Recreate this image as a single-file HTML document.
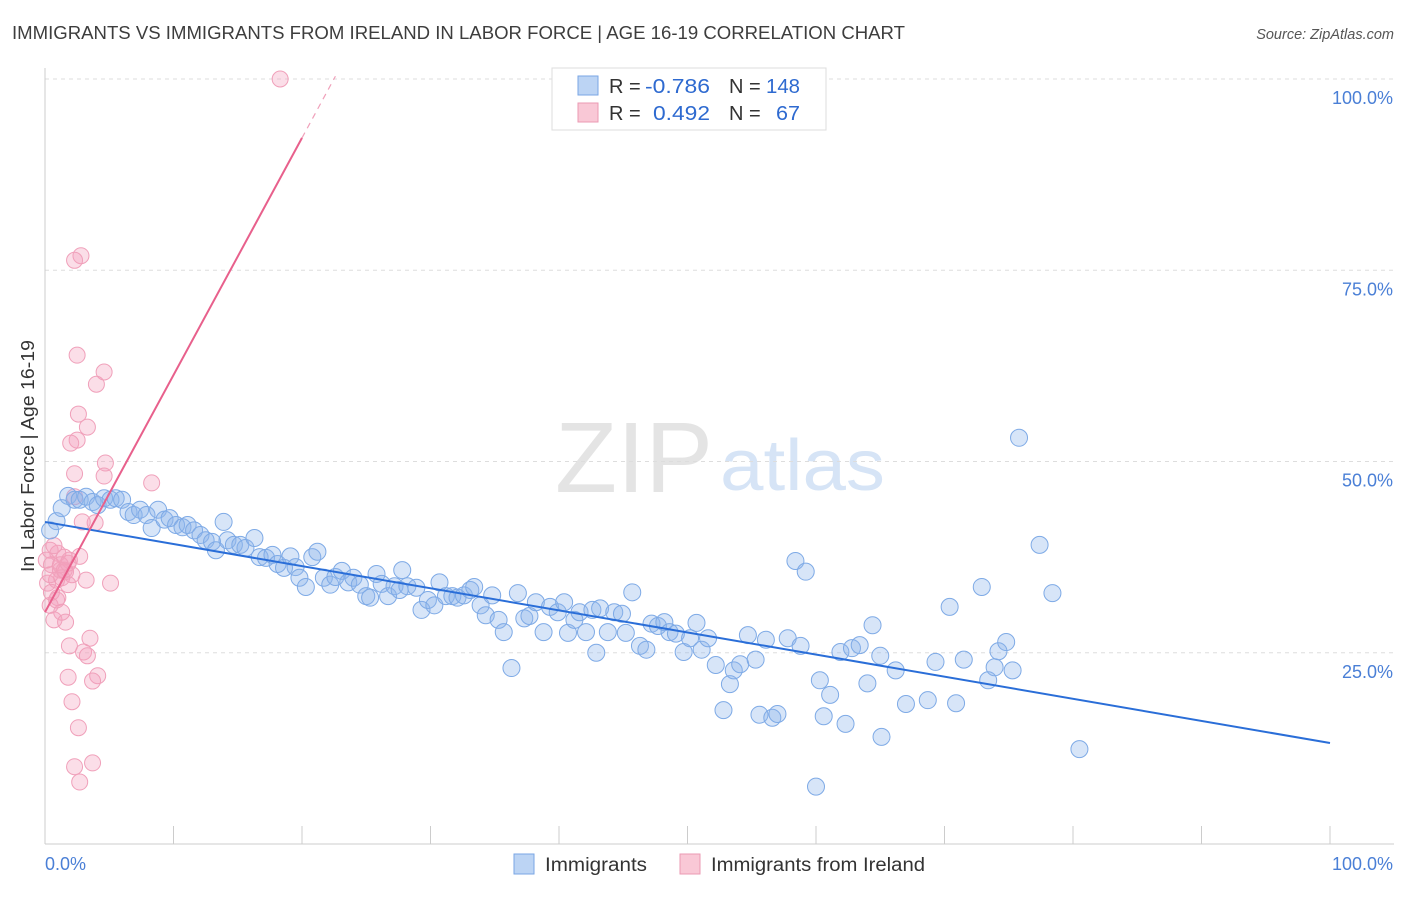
<!DOCTYPE html>
<html><head><meta charset="utf-8">
<style>
body{margin:0;background:#fff;font-family:"Liberation Sans",sans-serif;}
svg text{font-family:"Liberation Sans",sans-serif;}
</style></head>
<body>
<svg id="chart" width="1406" height="892" xmlns="http://www.w3.org/2000/svg">
<text x="12" y="39" font-size="18" fill="#3d3d3d" textLength="893" lengthAdjust="spacingAndGlyphs">IMMIGRANTS VS IMMIGRANTS FROM IRELAND IN LABOR FORCE | AGE 16-19 CORRELATION CHART</text>
<text x="1394" y="39" font-size="14.5" fill="#555" text-anchor="end" font-style="italic">Source: ZipAtlas.com</text>
<g>
<text x="555" y="492" font-size="100" fill="#e4e4e4" font-family="Liberation Serif, serif" textLength="158" lengthAdjust="spacingAndGlyphs">ZIP</text>
<text x="720" y="490" font-size="72" fill="#d6e4f6" textLength="165" lengthAdjust="spacingAndGlyphs">atlas</text>
</g>
<g id="grid"></g>
<g id="axes"></g>
<g id="pinkPts"></g>
<g id="bluePts"></g>
<g id="trends"></g>
<text transform="translate(34,456) rotate(-90)" font-size="18" fill="#333" text-anchor="middle" textLength="232" lengthAdjust="spacingAndGlyphs">In Labor Force | Age 16-19</text>
<g>
<rect x="552" y="68" width="274" height="62" fill="#fff" stroke="#ddd"/>
<rect x="578" y="76" width="20" height="19" fill="#bcd4f4" stroke="#7aa6e4"/>
<rect x="578" y="103" width="20" height="19" fill="#f9c8d6" stroke="#eb9ab3"/>
<text x="609" y="93" font-size="20" fill="#333">R =</text>
<text x="645" y="93" font-size="20" fill="#2e6ad0" textLength="65" lengthAdjust="spacingAndGlyphs">-0.786</text>
<text x="729" y="93" font-size="20" fill="#333">N =</text>
<text x="766" y="93" font-size="20" fill="#2e6ad0" textLength="34" lengthAdjust="spacingAndGlyphs">148</text>
<text x="609" y="120" font-size="20" fill="#333">R =</text>
<text x="653" y="120" font-size="20" fill="#2e6ad0" textLength="57" lengthAdjust="spacingAndGlyphs">0.492</text>
<text x="729" y="120" font-size="20" fill="#333">N =</text>
<text x="776" y="120" font-size="20" fill="#2e6ad0" textLength="24" lengthAdjust="spacingAndGlyphs">67</text>
</g>
<g>
<rect x="514" y="854" width="20" height="20" fill="#bcd4f4" stroke="#7aa6e4"/>
<text x="545" y="871" font-size="19" fill="#333" textLength="102" lengthAdjust="spacingAndGlyphs">Immigrants</text>
<rect x="680" y="854" width="20" height="20" fill="#f9c8d6" stroke="#eb9ab3"/>
<text x="711" y="871" font-size="19" fill="#333" textLength="214" lengthAdjust="spacingAndGlyphs">Immigrants from Ireland</text>
</g>
</svg>
<script>
const yTicks=[25,50,75,100];
const yTickLabels=["25.0%","50.0%","75.0%","100.0%"];
const xTickLabels=["0.0%","100.0%"];
const blueX=[0.4,0.9,1.3,1.8,2.3,2.7,3.2,3.7,4.1,4.6,5.1,5.5,6.0,6.5,6.9,7.4,7.9,8.3,8.8,9.3,9.7,10.2,10.7,11.1,11.6,12.1,12.5,13.0,13.3,13.9,14.2,14.7,15.2,15.6,16.3,16.7,17.2,17.7,18.1,18.6,19.1,19.5,19.8,20.3,20.8,21.2,21.7,22.2,22.6,23.1,23.6,24.0,24.5,25.0,25.3,25.8,26.2,26.7,27.2,27.6,27.8,28.2,28.9,29.3,29.8,30.3,30.7,31.2,31.7,32.1,32.6,33.1,33.4,33.9,34.3,34.8,35.3,35.7,36.3,36.8,37.3,37.7,38.2,38.8,39.3,39.9,40.4,40.7,41.2,41.6,42.1,42.6,42.9,43.2,43.8,44.3,44.9,45.2,45.7,46.3,46.8,47.2,47.7,48.2,48.6,49.1,49.7,50.2,50.7,51.1,51.6,52.2,52.8,53.3,53.6,54.1,54.7,55.3,55.6,56.1,56.6,57.0,57.8,58.4,58.8,59.2,60.0,60.3,60.6,61.1,61.9,62.3,62.8,63.4,64.0,64.4,65.0,65.1,66.2,67.0,68.7,69.3,70.4,70.9,71.5,72.9,73.4,73.9,74.2,74.8,75.3,75.8,77.4,78.4,80.5];
const blueY=[41.0,42.2,43.9,45.5,45.0,45.0,45.4,44.7,44.3,45.2,45.0,45.2,45.0,43.4,43.0,43.7,43.0,41.3,43.7,42.4,42.6,41.7,41.4,41.7,41.0,40.4,39.7,39.5,38.4,42.1,39.7,39.1,39.1,38.7,40.0,37.5,37.4,37.8,36.6,36.1,37.6,36.2,34.8,33.6,37.5,38.2,34.8,33.9,34.9,35.7,34.2,34.8,33.9,32.4,32.2,35.3,34.0,32.4,33.7,33.2,35.8,33.7,33.5,30.6,31.9,31.2,34.2,32.4,32.4,32.2,32.5,33.2,33.6,31.2,29.9,32.5,29.3,27.7,23.0,32.8,29.5,29.8,31.6,27.7,31.0,30.3,31.6,27.6,29.3,30.3,27.7,30.6,25.0,30.8,27.7,30.3,30.1,27.6,32.9,25.9,25.4,28.8,28.5,29.0,27.7,27.5,25.1,26.9,28.9,25.4,26.9,23.4,17.5,20.9,22.7,23.5,27.3,24.1,16.9,26.7,16.5,17.0,26.9,37.0,25.9,35.6,7.5,21.4,16.7,19.5,25.1,15.7,25.6,26.0,21.0,28.6,24.6,14.0,22.7,18.3,18.8,23.8,31.0,18.4,24.1,33.6,21.4,23.1,25.2,26.4,22.7,53.1,39.1,32.8,12.4];
const pinkX=[18.3,2.8,2.3,2.5,4.6,4.0,2.6,3.3,2.5,2.0,2.3,4.7,4.6,8.3,2.3,3.9,2.9,0.4,1.0,1.5,1.9,2.7,0.5,1.2,1.6,2.1,0.9,1.3,0.2,3.2,5.1,1.8,0.5,1.0,0.4,1.3,0.7,1.6,3.5,1.9,3.0,3.3,1.8,4.1,3.7,2.1,2.6,2.3,3.7,2.7,0.1,0.4,0.9,1.2,1.5,1.8,0.7];
const pinkY=[100,76.9,76.3,63.9,61.7,60.1,56.2,54.5,52.8,52.4,48.4,49.8,48.1,47.2,45.4,42.0,42.1,38.4,38.0,37.5,37.1,37.6,36.5,35.8,35.6,35.2,34.5,34.8,34.1,34.5,34.1,33.9,32.9,32.2,31.2,30.3,29.3,29.0,26.9,25.9,25.1,24.6,21.8,22.0,21.3,18.6,15.2,10.1,10.6,8.1,37.1,35.2,31.9,36.5,35.8,36.7,39.0];
const blueTrend=[42.1,13.2];
const pinkTrend=[30.3,92.3,20,22.6];

const X0=45,X1=1330,Y0=844,Y100=79;
const sx=v=>X0+(X1-X0)*v/100;
const sy=v=>Y0-(Y0-Y100)*v/100;
const NS="http://www.w3.org/2000/svg";
function mk(tag,parent,attrs){const e=document.createElementNS(NS,tag);for(const k in attrs)e.setAttribute(k,attrs[k]);parent.appendChild(e);return e;}
const grid=document.getElementById('grid'),axes=document.getElementById('axes');
yTicks.forEach((t,i)=>{
  const l=mk('line',grid,{x1:X0,x2:1394,y1:sy(t),y2:sy(t),stroke:'#ddd','stroke-dasharray':'4,4'});
  
  
  const tx=mk('text',axes,{x:1393,y:sy(t)+25,'font-size':18,fill:'#4a7fd6','text-anchor':'end'});
  tx.textContent=yTickLabels[i];
  
  
});
const xl=mk('line',axes,{x1:X0,x2:1394,y1:Y0,y2:Y0,stroke:'#ccc'});


const yl=mk('line',axes,{x1:X0,x2:X0,y1:68,y2:Y0,stroke:'#ccc'});


for(let i=0;i<=10;i++){
  const t=mk('line',axes,{x1:sx(i*10),x2:sx(i*10),y1:Y0-18,y2:Y0,stroke:'#ccc'});
  
  
}
const xa=mk('text',axes,{x:45,y:870,'font-size':18,fill:'#4a7fd6'});xa.textContent=xTickLabels[0];


const xb=mk('text',axes,{x:1393,y:870,'font-size':18,fill:'#4a7fd6','text-anchor':'end'});xb.textContent=xTickLabels[1];



const pg=document.getElementById('pinkPts');
pinkX.forEach((v,i)=>{
  const c=mk('circle',pg,{cx:sx(v),cy:sy(pinkY[i]),r:8,fill:'rgba(244,160,188,0.35)',stroke:'#f0a0ba','stroke-width':1});
  
  
});
const bg=document.getElementById('bluePts');
blueX.forEach((v,i)=>{
  const c=mk('circle',bg,{cx:sx(v),cy:sy(blueY[i]),r:8.5,fill:'rgba(140,180,236,0.35)',stroke:'#7eaae6','stroke-width':1});
  
  
});
const tg=document.getElementById('trends');
const bt=mk('line',tg,{x1:sx(0),y1:sy(blueTrend[0]),x2:sx(100),y2:sy(blueTrend[1]),stroke:'#2a6ed8','stroke-width':2});


const slope=(pinkTrend[1]-pinkTrend[0])/pinkTrend[2];
const pt=mk('line',tg,{x1:sx(0),y1:sy(pinkTrend[0]),x2:sx(pinkTrend[2]),y2:sy(pinkTrend[1]),stroke:'#e8608c','stroke-width':2});


const pd=mk('line',tg,{x1:sx(pinkTrend[2]),y1:sy(pinkTrend[1]),x2:sx(pinkTrend[3]),y2:sy(pinkTrend[0]+slope*pinkTrend[3]),stroke:'#f0a0ba','stroke-width':1.2,'stroke-dasharray':'6,5'});


</script>
</body></html>
